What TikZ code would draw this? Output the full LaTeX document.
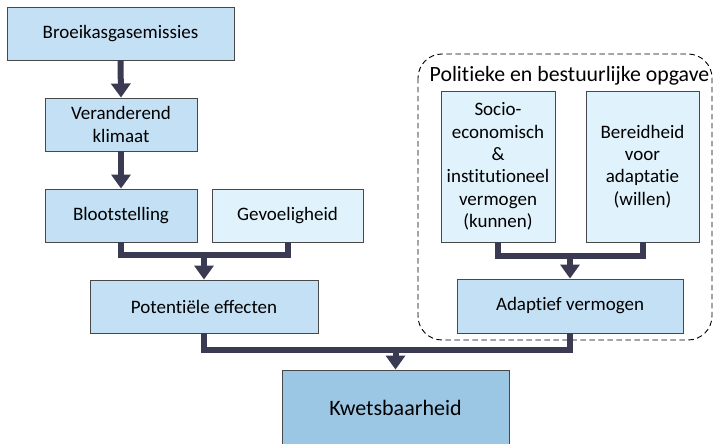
\documentclass[tikz,border=0pt]{standalone}
\usepackage{fontspec}
\setmainfont{Carlito}
\usetikzlibrary{arrows.meta}
\definecolor{boxmid}{HTML}{C3E0F4}
\definecolor{boxpale}{HTML}{E0F2FB}
\definecolor{boxdeep}{HTML}{9CC7E4}
\definecolor{linkcol}{HTML}{3A3A52}
\definecolor{edgecol}{HTML}{484848}
% plain "t" + "i" without the font's ti ligature
\newcommand\tnoi{t\kern0pt i}
\begin{document}
\begin{tikzpicture}[x=1pt,y=-1pt,
  every node/.style={font=\fontsize{19}{22.4}\selectfont, text=black},
  blk/.style={draw=edgecol, line width=0.9pt, align=center, inner sep=0pt, fill=boxmid},
  paleblk/.style={blk, fill=boxpale},
  link/.style={draw=linkcol, line width=6pt, line join=miter},
  linkarrow/.style={link, -{Triangle[width=19pt,length=14pt]}},
  group/.style={draw=black, line width=0.9pt, dash pattern=on 5.5pt off 3.5pt, rounded corners=24pt}]
\useasboundingbox (0,0) rectangle (713,444);

% dashed frame around the governance part
\draw[group] (418,54) rectangle (712,340);
\node[font=\fontsize{21.8}{24}\selectfont] (title) at (569.5,76) {Poli\tnoi eke en bestuurlijke opgave};

% boxes
\node[blk, minimum width=227pt, minimum height=53pt] (emis) at (120.5,33.5) {Broeikasgasemissies};
\node[blk, minimum width=152pt, minimum height=53pt] (klim) at (121,124.5) {Veranderend\\klimaat};
\node[blk, minimum width=152pt, minimum height=53pt] (bloot) at (121,215.5) {Blootstelling};
\node[paleblk, minimum width=151pt, minimum height=53pt] (gevoel) at (287.5,215.5) {Gevoeligheid};
\node[blk, minimum width=228pt, minimum height=53pt] (pot) at (204,306.5) {Poten\tnoi ële effecten};
\node[paleblk, minimum width=114pt, minimum height=151pt] (socio) at (498,166.5) {Socio-\\economisch\\\&\\ins\tnoi tu\tnoi oneel\\vermogen\\(kunnen)};
\node[paleblk, minimum width=113pt, minimum height=151pt] (bereid) at (642.5,166.5) {Bereidheid\\voor\\adapta\tnoi e\\(willen)};
\node[blk, minimum width=226pt, minimum height=54pt] (adapt) at (570,306) {Adap\tnoi ef vermogen};
\node[blk, fill=boxdeep, minimum width=227pt, minimum height=76pt, font=\fontsize{22}{24}\selectfont] (kwets) at (395.5,408) {Kwetsbaarheid};

% junction points of the merging connectors
\coordinate (jleft) at (204,254.5);
\coordinate (jright) at (570,256);
\coordinate (jbottom) at (395.5,350);

% connectors
\draw[linkarrow] (emis.south) -- (klim.north);
\draw[linkarrow] (klim.south) -- (bloot.north);
\draw[link] (bloot.south) |- (jleft) -| (gevoel.south);
\draw[linkarrow] (jleft) -- (pot.north);
\draw[link] (socio.south) |- (jright) -| (bereid.south);
\draw[linkarrow] (jright) -- (adapt.north);
\draw[link] (pot.south) |- (jbottom) -| (adapt.south);
\draw[linkarrow] (jbottom) -- (kwets.north);
\end{tikzpicture}
\end{document}
